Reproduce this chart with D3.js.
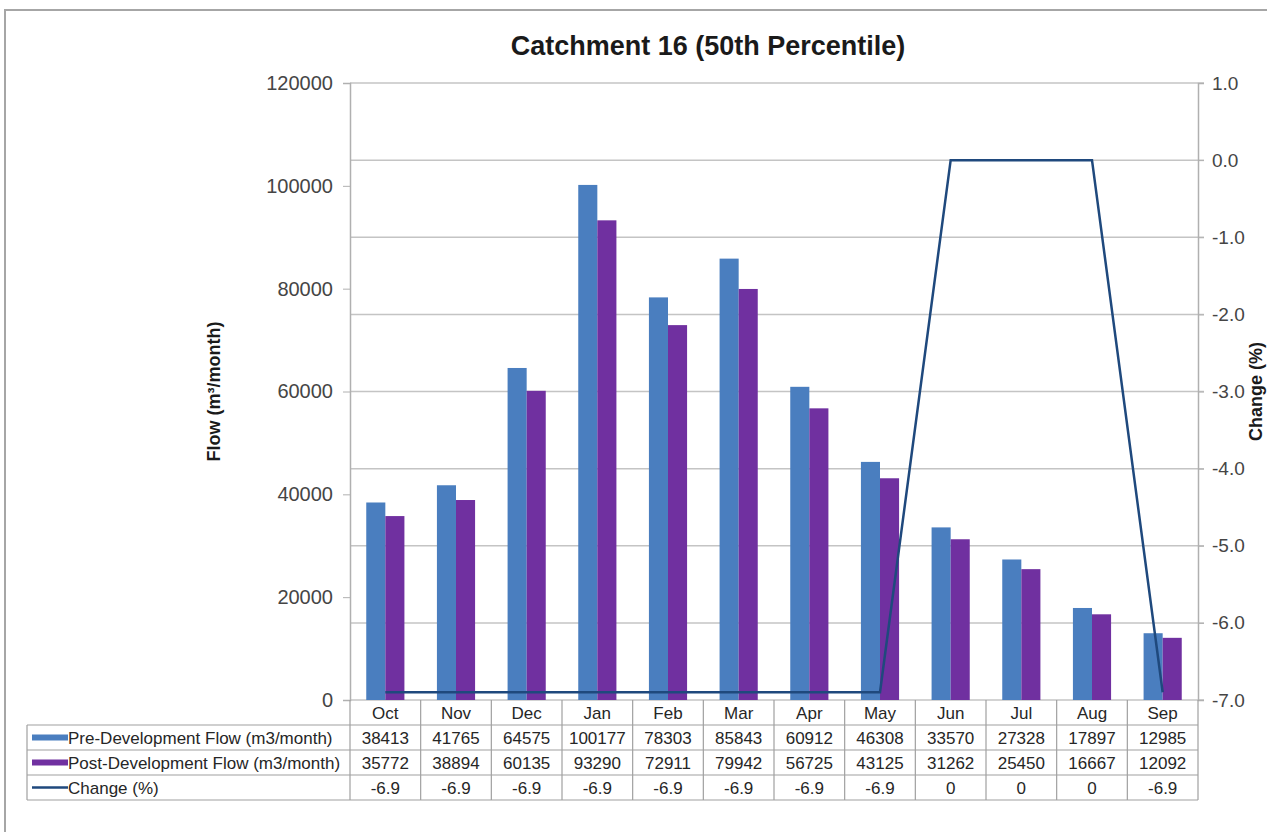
<!DOCTYPE html>
<html>
<head>
<meta charset="utf-8">
<script src="https://cdn.jsdelivr.net/npm/d3@7"></script>
<style>
	body { margin: 0; background: #fff; }
	svg { display: block; font-family: "Liberation Sans", Arial, sans-serif; }
</style>
</head>
<body>
<svg id="chart" width="1267" height="832"></svg>
<script>
// Chart data
const months = ["Oct", "Nov", "Dec", "Jan", "Feb", "Mar", "Apr", "May", "Jun", "Jul", "Aug", "Sep"]
const preFlow = [38413, 41765, 64575, 100177, 78303, 85843, 60912, 46308, 33570, 27328, 17897, 12985]
const postFlow = [35772, 38894, 60135, 93290, 72911, 79942, 56725, 43125, 31262, 25450, 16667, 12092]
const change = [-6.9, -6.9, -6.9, -6.9, -6.9, -6.9, -6.9, -6.9, 0, 0, 0, -6.9]
const flowTicks = [0, 20000, 40000, 60000, 80000, 100000, 120000]
const changeTicks = [1, 0, -1, -2, -3, -4, -5, -6, -7]
const seriesNames = ["Pre-Development Flow (m3/month)", "Post-Development Flow (m3/month)", "Change (%)"]

const colours = { pre: "#4a7ebf", post: "#7030a0", line: "#1f497d" }

let svg = d3.select("#chart")

// plot area
let plotLeft = 350, plotRight = 1198, plotTop = 83, plotBottom = 700
let rowH = 25

// outer chart border
svg.append("rect")
	.attr("x", 5).attr("y", 10)
	.attr("width", 1290).attr("height", 840)
	.style("fill", "white")
	.style("stroke", "#a6a6a6")
	.style("stroke-width", "2px")

let x = d3.scaleBand()
	.domain(months)
	.range([plotLeft, plotRight])
	.paddingInner(0.46)
	.paddingOuter(0.23)
let xCat = d3.scaleBand().domain(months).range([plotLeft, plotRight])
let xSub = d3.scaleBand()
	.domain(["pre", "post"])
	.range([0, x.bandwidth()])

let yFlow = d3.scaleLinear().domain([0, 120000]).range([plotBottom, plotTop])
let yChange = d3.scaleLinear().domain([-7, 1]).range([plotBottom, plotTop])

// gridlines follow the secondary (change) axis
svg.append("g")
	.attr("class", "grid")
	.selectAll("line")
	.data(changeTicks)
	.join("line")
	.attr("x1", plotLeft).attr("x2", plotRight + 6)
	.attr("y1", d => yChange(d)).attr("y2", d => yChange(d))
	.style("stroke", "#c4c4c4")
	.style("stroke-width", "1.5px")

// left axis
let leftAxis = svg.append("g")
	.attr("transform", `translate(${plotLeft},0)`)
	.call(d3.axisLeft(yFlow).tickValues(flowTicks).tickSize(7).tickPadding(10).tickFormat(d3.format("d")))
leftAxis.select(".domain").style("stroke", "#b0b0b0").style("stroke-width", "1.5px")
leftAxis.selectAll(".tick line").style("stroke", "#b0b0b0")
leftAxis.selectAll("text")
	.style("font-size", "20px")
	.style("fill", "#454545")
	.style("font-family", "'Liberation Sans', Arial, sans-serif")

// right axis
let rightAxis = svg.append("g")
	.attr("transform", `translate(${plotRight},0)`)
	.call(d3.axisRight(yChange).tickValues(changeTicks).tickSize(6).tickPadding(8).tickFormat(d => d.toFixed(1)))
rightAxis.select(".domain").style("stroke", "#b0b0b0").style("stroke-width", "1.5px")
rightAxis.selectAll(".tick line").style("stroke", "#b0b0b0")
rightAxis.selectAll("text")
	.style("font-size", "19px")
	.style("fill", "#454545")
	.style("font-family", "'Liberation Sans', Arial, sans-serif")

// bars
let groups = svg.append("g")
	.attr("class", "bars")
	.selectAll("g")
	.data(months.map((m, i) => ({ month: m, pre: preFlow[i], post: postFlow[i] })))
	.join("g")
	.attr("transform", d => `translate(${x(d.month)},0)`)
groups.selectAll("rect")
	.data(d => ["pre", "post"].map(k => ({ key: k, value: d[k] })))
	.join("rect")
	.attr("x", d => xSub(d.key))
	.attr("width", xSub.bandwidth())
	.attr("y", d => yFlow(d.value))
	.attr("height", d => plotBottom - yFlow(d.value))
	.style("fill", d => colours[d.key])

// change line
let line = d3.line()
	.x((d, i) => xCat(months[i]) + xCat.bandwidth() / 2)
	.y(d => yChange(d))
svg.append("path")
	.datum(change)
	.attr("d", line)
	.style("fill", "none")
	.style("stroke", colours.line)
	.style("stroke-width", "2.5px")

// title and axis titles
svg.append("text")
	.text("Catchment 16 (50th Percentile)")
	.attr("x", 708).attr("y", 55)
	.attr("text-anchor", "middle")
	.style("font-size", "27px")
	.style("font-weight", "bold")
	.style("fill", "#1a1a1a")
svg.append("text")
	.attr("transform", `translate(220,${(plotTop + plotBottom) / 2}) rotate(-90)`)
	.attr("text-anchor", "middle")
	.style("font-size", "18px")
	.style("font-weight", "bold")
	.style("fill", "#1a1a1a")
	.text("Flow (m³/month)")
svg.append("text")
	.attr("transform", `translate(1262,${(plotTop + plotBottom) / 2}) rotate(-90)`)
	.attr("text-anchor", "middle")
	.style("font-size", "18px")
	.style("font-weight", "bold")
	.style("fill", "#1a1a1a")
	.text("Change (%)")

// data table
let table = svg.append("g").attr("class", "dataTable")
let tableLeft = 27
let rows = [
	{ name: seriesNames[0], key: "pre", values: preFlow.map(String) },
	{ name: seriesNames[1], key: "post", values: postFlow.map(String) },
	{ name: seriesNames[2], key: "line", values: change.map(String) }
]
let lineStyle = sel => sel.style("stroke", "#a0a0a0").style("stroke-width", "1.2px")

// horizontal rules
table.selectAll("line.hRule")
	.data(d3.range(rows.length + 1))
	.join("line")
	.attr("class", "hRule")
	.attr("x1", tableLeft).attr("x2", plotRight)
	.attr("y1", i => plotBottom + rowH * (i + 1)).attr("y2", i => plotBottom + rowH * (i + 1))
	.call(lineStyle)
// column rules
table.selectAll("line.vRule")
	.data(d3.range(months.length + 1))
	.join("line")
	.attr("class", "vRule")
	.attr("x1", i => plotLeft + i * xCat.step()).attr("x2", i => plotLeft + i * xCat.step())
	.attr("y1", plotBottom).attr("y2", plotBottom + rowH * (rows.length + 1))
	.call(lineStyle)
table.append("line")
	.attr("x1", tableLeft).attr("x2", tableLeft)
	.attr("y1", plotBottom + rowH).attr("y2", plotBottom + rowH * (rows.length + 1))
	.call(lineStyle)

// month header
table.selectAll("text.month")
	.data(months)
	.join("text")
	.attr("class", "month")
	.attr("x", d => xCat(d) + xCat.bandwidth() / 2)
	.attr("y", plotBottom + rowH / 2 + 6)
	.attr("text-anchor", "middle")
	.text(d => d)

let row = table.selectAll("g.row")
	.data(rows)
	.join("g")
	.attr("class", "row")
	.attr("transform", (d, i) => `translate(0,${plotBottom + rowH * (i + 1)})`)
row.selectAll("text.value")
	.data(d => d.values)
	.join("text")
	.attr("class", "value")
	.attr("x", (d, i) => xCat(months[i]) + xCat.bandwidth() / 2)
	.attr("y", rowH / 2 + 6)
	.attr("text-anchor", "middle")
	.text(d => d)
row.append("text")
	.attr("x", 68)
	.attr("y", rowH / 2 + 6)
	.text(d => d.name)
// legend keys
row.filter(d => d.key != "line").append("rect")
	.attr("x", 32).attr("y", rowH / 2 - 3)
	.attr("width", 36).attr("height", 6)
	.style("fill", d => colours[d.key])
row.filter(d => d.key == "line").append("line")
	.attr("x1", 32).attr("x2", 68)
	.attr("y1", rowH / 2).attr("y2", rowH / 2)
	.style("stroke", colours.line)
	.style("stroke-width", "2.5px")

table.selectAll("text")
	.style("font-size", "17px")
	.style("fill", "#262626")
</script>
</body>
</html>
